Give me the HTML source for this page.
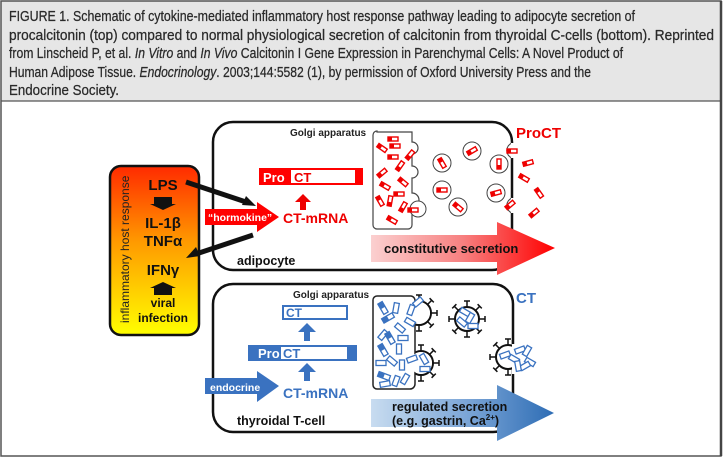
<!DOCTYPE html>
<html><head><meta charset="utf-8"><style>
html,body{margin:0;padding:0;background:#fff;}
svg{display:block;}
</style></head><body>
<svg width="728" height="462" viewBox="0 0 728 462" xmlns="http://www.w3.org/2000/svg" font-family="Liberation Sans, Arial, sans-serif">
<defs>
<linearGradient id="yel" x1="0" y1="0" x2="0" y2="1">
<stop offset="0" stop-color="#ff2a00"/><stop offset="0.45" stop-color="#ff9a00"/><stop offset="1" stop-color="#ffff00"/>
</linearGradient>
<linearGradient id="redg" x1="0" y1="0" x2="1" y2="0">
<stop offset="0" stop-color="#fbd0d0"/><stop offset="0.5" stop-color="#f78080"/><stop offset="1" stop-color="#ff0000"/>
</linearGradient>
<linearGradient id="blug" x1="0" y1="0" x2="1" y2="0">
<stop offset="0" stop-color="#c8dcf0"/><stop offset="0.5" stop-color="#7fa8d8"/><stop offset="1" stop-color="#2e6db5"/>
</linearGradient>
<g id="coat">
<circle r="12" fill="#fff" stroke="#111" stroke-width="2"/>
<g stroke="#111" stroke-width="1.5">
<line x1="0" y1="-12" x2="0" y2="-18"/><line x1="-3" y1="-18" x2="3" y2="-18"/>
<line x1="0" y1="12" x2="0" y2="18"/><line x1="-3" y1="18" x2="3" y2="18"/>
<line x1="-12" y1="0" x2="-18" y2="0"/><line x1="-18" y1="-3" x2="-18" y2="3"/>
<line x1="12" y1="0" x2="18" y2="0"/><line x1="18" y1="-3" x2="18" y2="3"/>
<line x1="8.5" y1="8.5" x2="12.7" y2="12.7"/><line x1="10.6" y1="14.8" x2="14.8" y2="10.6"/>
<line x1="-8.5" y1="8.5" x2="-12.7" y2="12.7"/><line x1="-10.6" y1="14.8" x2="-14.8" y2="10.6"/>
<line x1="8.5" y1="-8.5" x2="12.7" y2="-12.7"/><line x1="10.6" y1="-14.8" x2="14.8" y2="-10.6"/>
<line x1="-8.5" y1="-8.5" x2="-12.7" y2="-12.7"/><line x1="-10.6" y1="-14.8" x2="-14.8" y2="-10.6"/>
</g>
</g>
<g id="rr"><rect x="-5" y="-2" width="10" height="4" fill="#fff" stroke="#e00" stroke-width="1.4"/><rect x="-5" y="-2" width="4" height="4" fill="#e00"/></g>
<g id="br"><rect x="-5" y="-2.5" width="10" height="5" fill="#fff" stroke="#3a72c0" stroke-width="1.3"/></g>
<g id="bf"><rect x="-6" y="-2.5" width="12" height="5" fill="#fff" stroke="#3a72c0" stroke-width="1.3"/><rect x="-6" y="-2.5" width="6" height="5" fill="#3a72c0"/></g>
</defs>

<rect x="0" y="0" width="728" height="462" fill="#fff"/>
<rect x="1" y="1" width="720" height="100" fill="#e6e6e6"/>
<rect x="1" y="1" width="720" height="455" fill="none" stroke="#555" stroke-width="1.5"/>
<line x1="1" y1="101" x2="721" y2="101" stroke="#555" stroke-width="1.2"/>
<line x1="721" y1="1" x2="721" y2="456" stroke="#444" stroke-width="2.5"/>

<g font-size="14.5" fill="#2a2a2a" stroke="#2a2a2a" stroke-width="0.25">
<text x="9" y="21" textLength="626" lengthAdjust="spacingAndGlyphs">FIGURE 1. Schematic of cytokine-mediated inflammatory host response pathway leading to adipocyte secretion of</text>
<text x="9" y="40" textLength="705" lengthAdjust="spacingAndGlyphs">procalcitonin (top) compared to normal physiological secretion of calcitonin from thyroidal C-cells (bottom). Reprinted</text>
<text x="9" y="58" textLength="614" lengthAdjust="spacingAndGlyphs">from Linscheid P, et al. <tspan font-style="italic">In Vitro</tspan> and <tspan font-style="italic">In Vivo</tspan> Calcitonin I Gene Expression in Parenchymal Cells: A Novel Product of</text>
<text x="9" y="77" textLength="582" lengthAdjust="spacingAndGlyphs">Human Adipose Tissue. <tspan font-style="italic">Endocrinology</tspan>. 2003;144:5582 (1), by permission of Oxford University Press and the</text>
<text x="9" y="95" textLength="110" lengthAdjust="spacingAndGlyphs">Endocrine Society.</text>
</g>

<rect x="213" y="122" width="299" height="148" rx="20" fill="#fff" stroke="#111" stroke-width="2.5"/>
<rect x="213" y="284" width="300" height="148" rx="20" fill="#fff" stroke="#111" stroke-width="2.5"/>

<rect x="110" y="166" width="89" height="169" rx="11" fill="url(#yel)" stroke="#111" stroke-width="2.5"/>
<text transform="translate(129,323) rotate(-90)" font-size="12" fill="#222">inflammatory  host response</text>
<g font-weight="bold" fill="#111" text-anchor="middle">
<text x="163" y="190" font-size="15">LPS</text>
<text x="163" y="228" font-size="15">IL-1β</text>
<text x="163" y="246" font-size="15">TNFα</text>
<text x="163" y="275" font-size="15">IFNγ</text>
<text x="163" y="307" font-size="12">viral</text>
<text x="163" y="322" font-size="12">infection</text>
</g>
<path d="M154,197 h18 v7 h4 l-13,6 l-13,-6 h4 z" fill="#111"/>
<path d="M154,295 h18 v-7 h4 l-13,-6 l-13,6 h4 z" fill="#111"/>

<line x1="186" y1="182" x2="246" y2="202" stroke="#111" stroke-width="5"/>
<path d="M256,206 l-14,-1 l4,-9 z" fill="#111"/>
<line x1="253" y1="235" x2="196" y2="254" stroke="#111" stroke-width="5"/>
<path d="M186,258 l10,-11 l4,9 z" fill="#111"/>

<path d="M205,209 h52 v-7 l22,15 l-22,15 v-7 h-52 z" fill="#f00"/>
<text x="208" y="221" font-size="10.5" font-weight="bold" fill="#fff">“hormokine”</text>
<text x="283" y="223" font-size="14" font-weight="bold" fill="#e00">CT-mRNA</text>
<path d="M300,210 v-8 h-5 l8,-8 l8,8 h-5 v8 z" fill="#e00"/>
<rect x="259" y="168" width="104" height="17" fill="#f00"/>
<rect x="291" y="170" width="64" height="13" fill="#fff"/>
<text x="263" y="182" font-size="13" font-weight="bold" fill="#fff">Pro</text>
<text x="294" y="182" font-size="13" font-weight="bold" fill="#e00">CT</text>
<text x="290" y="136" font-size="10" font-weight="bold" fill="#222">Golgi apparatus</text>
<text x="237" y="265" font-size="12.5" font-weight="bold" fill="#111">adipocyte</text>
<text x="516" y="138" font-size="15" font-weight="bold" fill="#e00">ProCT</text>

<path d="M377,132 h35 v10 a6,6 0 0 1 0,12 v12 a6,6 0 0 1 0,12 v15 a7,7 0 0 1 0,14 v18 a4,4 0 0 1 -4,4 h-31 a4,4 0 0 1 -4,-4 v-90 a4,4 0 0 1 4,-4 z" fill="#fff" stroke="#444" stroke-width="1.2"/>
<use href="#rr" transform="translate(393,139)"/>
<use href="#rr" transform="translate(395,146)"/>
<use href="#rr" transform="translate(382,148) rotate(35)"/>
<use href="#rr" transform="translate(393,157)"/>
<use href="#rr" transform="translate(410,155) rotate(-50)"/>
<use href="#rr" transform="translate(400,166) rotate(-55)"/>
<use href="#rr" transform="translate(382,173) rotate(-40)"/>
<use href="#rr" transform="translate(385,186) rotate(30)"/>
<use href="#rr" transform="translate(403,182) rotate(40)"/>
<use href="#rr" transform="translate(399,194)"/>
<use href="#rr" transform="translate(380,201) rotate(60)"/>
<use href="#rr" transform="translate(390,201) rotate(-80)"/>
<use href="#rr" transform="translate(403,207) rotate(-60)"/>
<use href="#rr" transform="translate(392,220) rotate(30)"/>
<circle cx="418" cy="209" r="8" fill="#fff" stroke="#444" stroke-width="1"/>
<use href="#rr" transform="translate(413,210)"/>
<g fill="#fff" stroke="#444" stroke-width="1">
<circle cx="442" cy="163" r="9"/><circle cx="472" cy="151" r="9"/><circle cx="442" cy="190" r="9"/>
<circle cx="458" cy="207" r="9"/><circle cx="499" cy="164" r="9"/><circle cx="496" cy="193" r="9"/>
</g>
<use href="#rr" transform="translate(442,163) rotate(60)"/>
<use href="#rr" transform="translate(472,151) rotate(-30)"/>
<use href="#rr" transform="translate(442,190)"/>
<use href="#rr" transform="translate(458,207) rotate(40)"/>
<use href="#rr" transform="translate(499,164) rotate(-90)"/>
<use href="#rr" transform="translate(496,193) rotate(-15)"/>
<path d="M512,143 a8,8 0 0 0 0,15" fill="#fff" stroke="#444" stroke-width="1"/>
<path d="M512,198 a8,8 0 0 0 0,15" fill="#fff" stroke="#444" stroke-width="1"/>
<rect x="511" y="143" width="3" height="15" fill="#fff"/>
<rect x="511" y="198" width="3" height="15" fill="#fff"/>
<use href="#rr" transform="translate(512,151)"/>
<use href="#rr" transform="translate(510,205) rotate(-40)"/>
<use href="#rr" transform="translate(528,163) rotate(-15)"/>
<use href="#rr" transform="translate(524,178) rotate(30)"/>
<use href="#rr" transform="translate(539,193) rotate(55)"/>
<use href="#rr" transform="translate(534,213) rotate(-40)"/>

<path d="M371,235 h126 v-13 l58,26 l-58,27 v-13 h-126 z" fill="url(#redg)"/>
<text x="384" y="253" font-size="13" font-weight="bold" fill="#111">constitutive secretion</text>

<text x="293" y="298" font-size="10" font-weight="bold" fill="#222">Golgi apparatus</text>
<rect x="283" y="306" width="64" height="13" fill="#fff" stroke="#3a72c0" stroke-width="2"/>
<text x="286" y="317" font-size="12" font-weight="bold" fill="#3a72c0">CT</text>
<path d="M304,341 v-9 h-6 l9,-9 l9,9 h-6 v9 z" fill="#3a72c0"/>
<rect x="248" y="345" width="109" height="16" fill="#3a72c0"/>
<rect x="281" y="347" width="66" height="12" fill="#fff"/>
<text x="258" y="358" font-size="13" font-weight="bold" fill="#fff">Pro</text>
<text x="283" y="358" font-size="13" font-weight="bold" fill="#3a72c0">CT</text>
<path d="M304,381 v-9 h-6 l9,-9 l9,9 h-6 v9 z" fill="#3a72c0"/>
<path d="M205,378 h52 v-7 l22,15 l-22,16 v-8 h-52 z" fill="#3a72c0"/>
<text x="210" y="391" font-size="10.5" font-weight="bold" fill="#fff">endocrine</text>
<text x="283" y="398" font-size="14" font-weight="bold" fill="#3a72c0">CT-mRNA</text>
<text x="237" y="425" font-size="12.5" font-weight="bold" fill="#111">thyroidal  T-cell</text>
<text x="516" y="303" font-size="15" font-weight="bold" fill="#3a72c0">CT</text>

<use href="#coat" transform="translate(419,313)"/>
<use href="#coat" transform="translate(421,363)"/>
<path d="M377,296 h34 a5,5 0 0 1 4,4 v84 a5,5 0 0 1 -5,5 h-33 a4,4 0 0 1 -4,-4 v-85 a4,4 0 0 1 4,-4 z" fill="#fff" stroke="#222" stroke-width="1.5"/>
<circle cx="421" cy="363" r="11" fill="#fff"/>
<circle cx="419" cy="313" r="11" fill="#fff"/>
<use href="#bf" transform="translate(383,308) rotate(60)"/>
<use href="#bf" transform="translate(388,318) rotate(-30)"/>
<use href="#br" transform="translate(396,308) rotate(-80)"/>
<use href="#br" transform="translate(411,310) rotate(-70)"/>
<use href="#br" transform="translate(410,322) rotate(30)"/>
<use href="#br" transform="translate(400,328) rotate(40)"/>
<use href="#br" transform="translate(383,335) rotate(-50)"/>
<use href="#bf" transform="translate(390,338) rotate(60)"/>
<use href="#br" transform="translate(403,338)"/>
<use href="#br" transform="translate(399,349) rotate(90)"/>
<use href="#bf" transform="translate(383,350) rotate(60)"/>
<use href="#br" transform="translate(392,361) rotate(40)"/>
<use href="#br" transform="translate(381,363)"/>
<use href="#br" transform="translate(402,365) rotate(90)"/>
<use href="#br" transform="translate(412,359) rotate(-20)"/>
<use href="#bf" transform="translate(384,376) rotate(20)"/>
<use href="#br" transform="translate(385,384) rotate(-10)"/>
<use href="#br" transform="translate(396,381) rotate(-70)"/>
<use href="#br" transform="translate(405,379) rotate(-60)"/>
<use href="#br" transform="translate(418,302) rotate(-40)"/>
<use href="#br" transform="translate(424,359) rotate(60)"/>
<use href="#br" transform="translate(425,369)"/>
<use href="#coat" transform="translate(467,319)"/>
<use href="#br" transform="translate(465,312) rotate(30)"/>
<use href="#br" transform="translate(470,318) rotate(-60)"/>
<use href="#br" transform="translate(462,322) rotate(40)"/>
<use href="#br" transform="translate(473,326)"/>
<use href="#coat" transform="translate(508,357)"/>
<rect x="512" y="340" width="30" height="34" fill="#fff"/>
<line x1="513" y1="340" x2="513" y2="344" stroke="#111" stroke-width="2.5"/>
<use href="#br" transform="translate(505,355) rotate(-20)"/>
<use href="#br" transform="translate(514,359) rotate(30)"/>
<use href="#br" transform="translate(520,350) rotate(-20)"/>
<use href="#br" transform="translate(527,351) rotate(-60)"/>
<use href="#br" transform="translate(530,362) rotate(30)"/>
<use href="#br" transform="translate(525,366) rotate(-30)"/>
<use href="#br" transform="translate(518,366) rotate(80)"/>

<path d="M371,399 h126 v-14 l57,28 l-57,28 v-14 h-126 z" fill="url(#blug)"/>
<text x="392" y="411" font-size="12.5" font-weight="bold" fill="#111">regulated secretion</text>
<text x="392" y="425" font-size="12.5" font-weight="bold" fill="#111">(e.g. gastrin, Ca<tspan font-size="8" dy="-5">2+</tspan><tspan dy="5">)</tspan></text>
</svg>
</body></html>
